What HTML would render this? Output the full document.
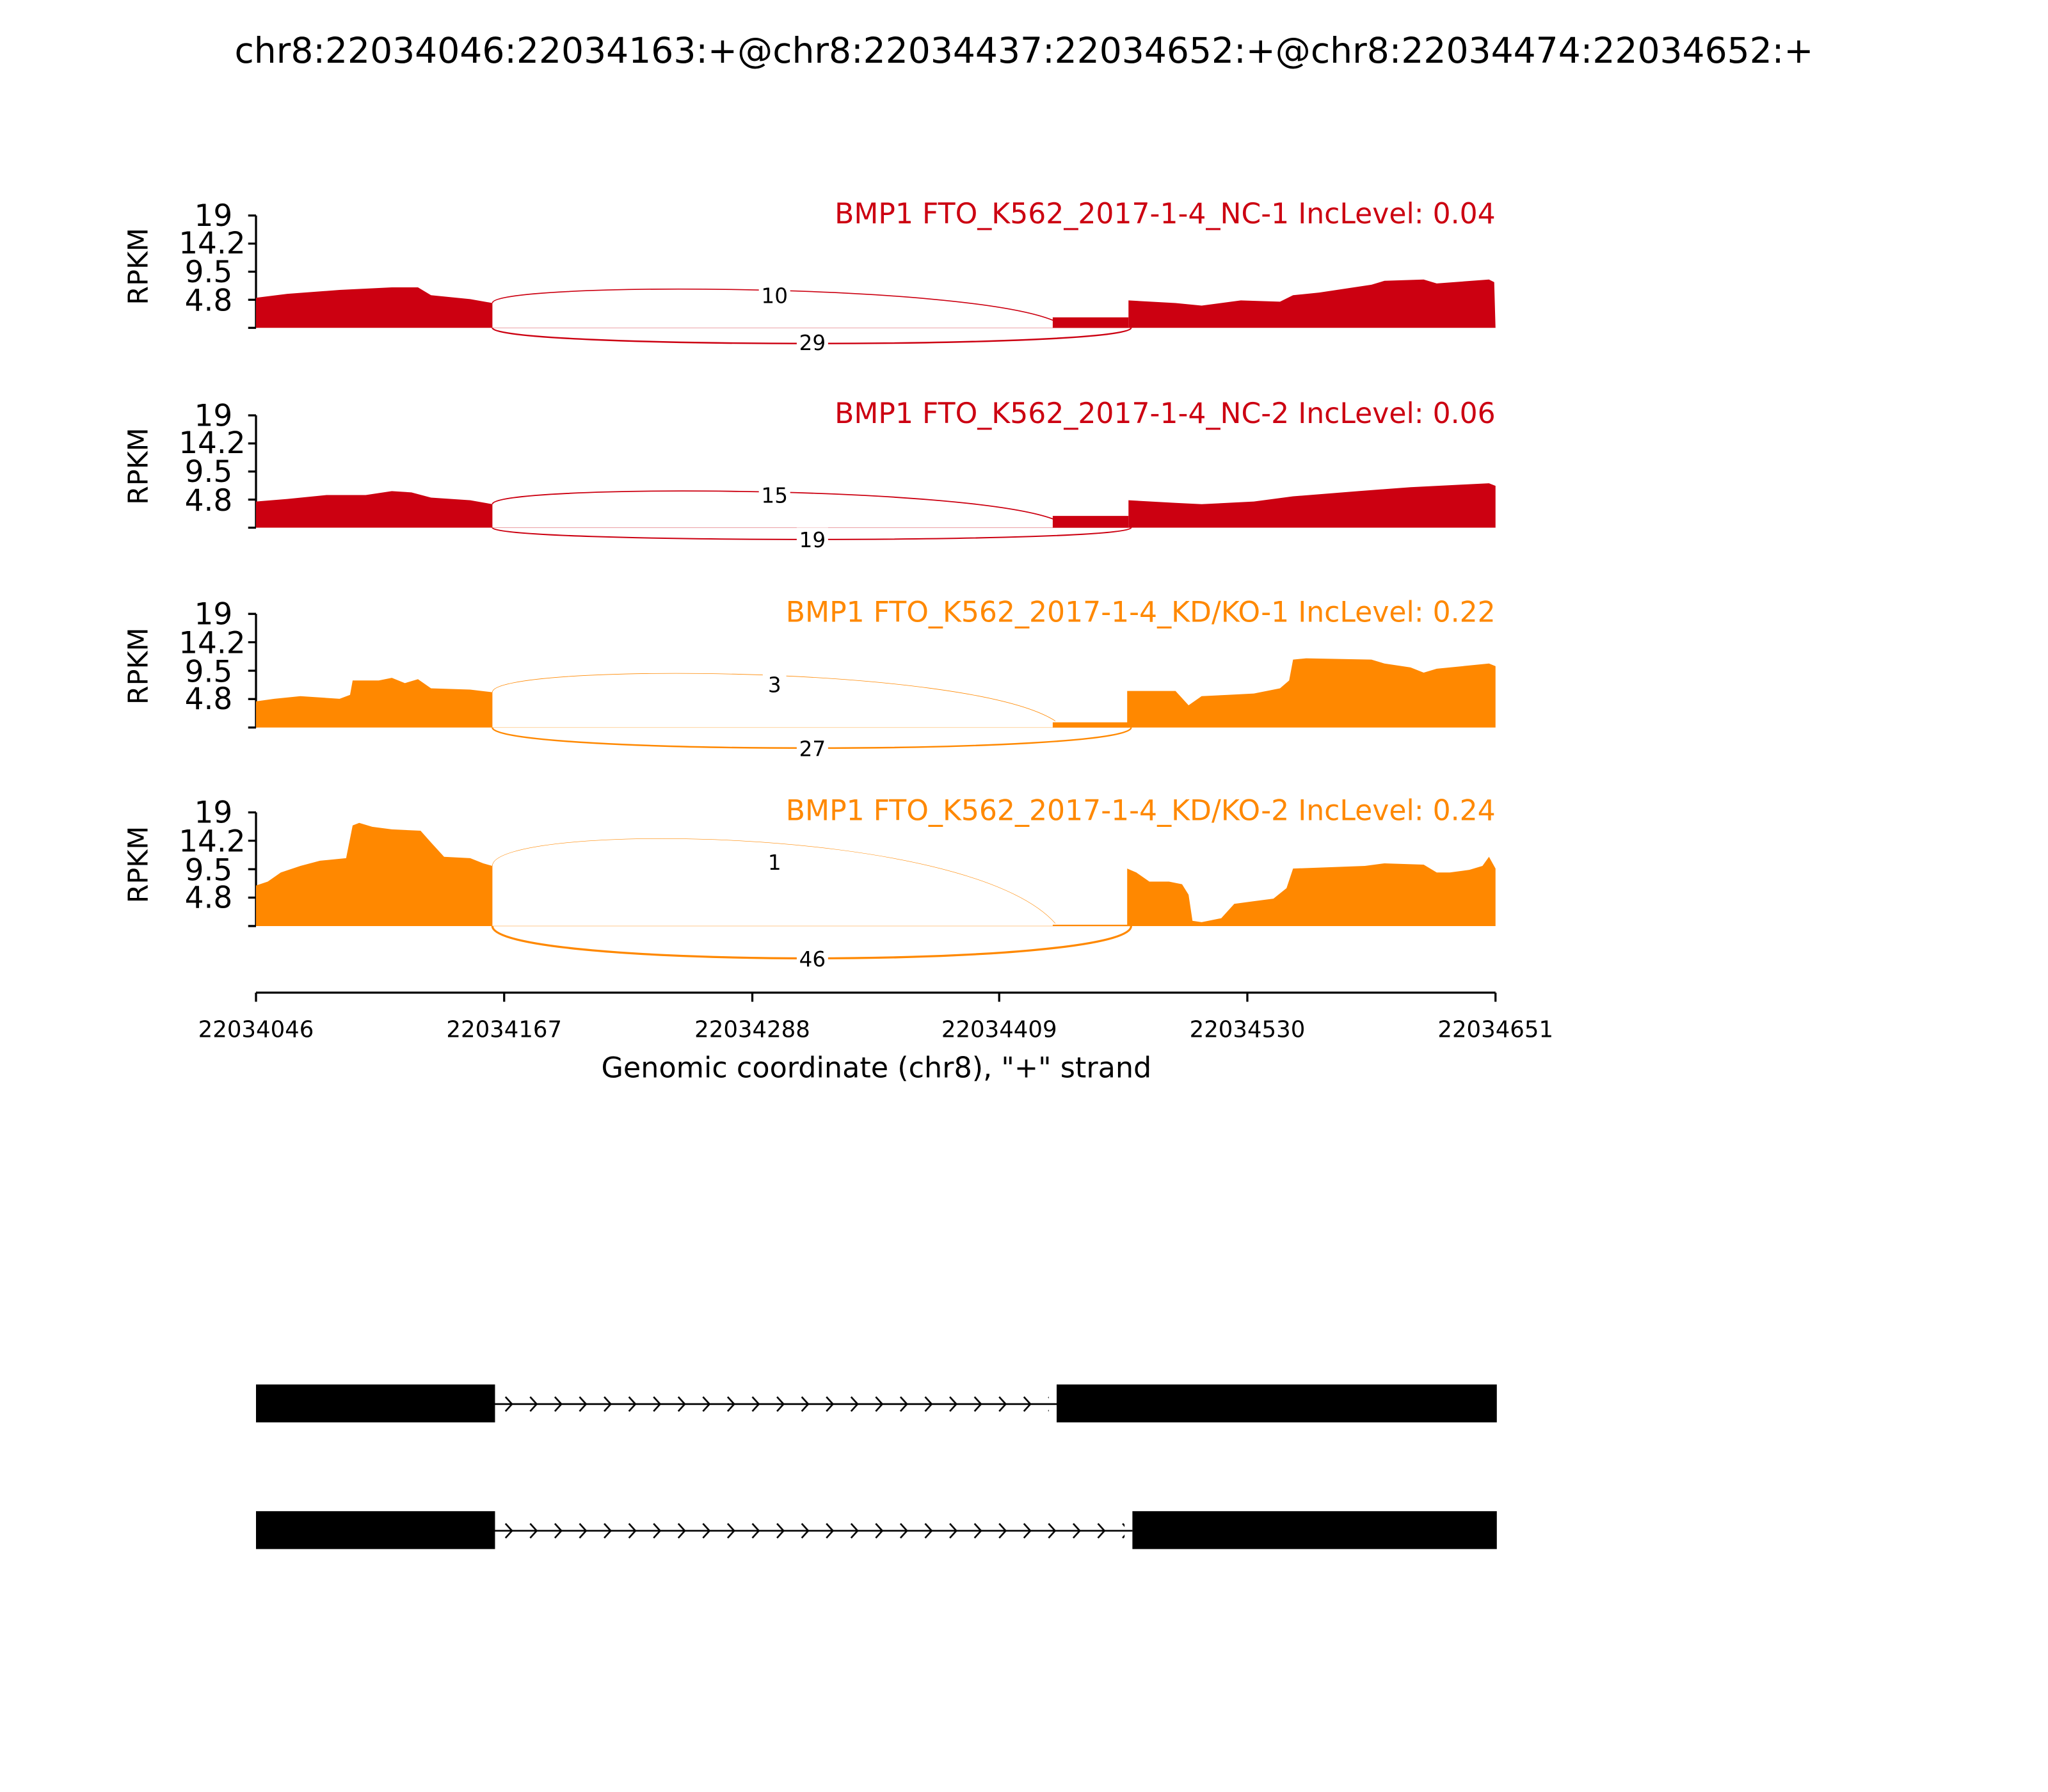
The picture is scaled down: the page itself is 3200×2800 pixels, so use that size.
<!DOCTYPE html>
<html><head><meta charset="utf-8"><style>html,body{margin:0;padding:0;background:#fff}svg{display:block}text{font-family:"DejaVu Sans","Liberation Sans",sans-serif}</style></head>
<body>
<svg xmlns="http://www.w3.org/2000/svg" width="3200" height="2800" viewBox="0 0 1568 1372">
<defs>
<pattern id="chev" x="383" y="1069" width="18.9" height="12" patternUnits="userSpaceOnUse">
<path d="M4,0.5 L9,6 L4,11.5" fill="none" stroke="#000" stroke-width="1.3"/>
</pattern>
<pattern id="chev2" x="383" y="1166" width="18.9" height="12" patternUnits="userSpaceOnUse">
<path d="M4,0.5 L9,6 L4,11.5" fill="none" stroke="#000" stroke-width="1.3"/>
</pattern>
</defs>
<rect width="1568" height="1372" fill="#fff"/>
<text x="784" y="48" font-size="27" text-anchor="middle">chr8:22034046:22034163:+@chr8:22034437:22034652:+@chr8:22034474:22034652:+</text>

<g stroke="#000" stroke-width="1.6" fill="none">
<path d="M196,165V251 M190,165H196 M190,186.5H196 M190,208H196 M190,229.5H196 M190,251H196"/>
<path d="M196,318V404 M190,318H196 M190,339.5H196 M190,361H196 M190,382.5H196 M190,404H196"/>
<path d="M196,470V557 M190,470H196 M190,491.7H196 M190,513.5H196 M190,535.2H196 M190,557H196"/>
<path d="M196,622V709 M190,622H196 M190,643.7H196 M190,665.5H196 M190,687.2H196 M190,709H196"/>
</g>
<g font-size="23" text-anchor="end">
<text x="178" y="173">19</text><text x="188" y="194">14.2</text><text x="178" y="216">9.5</text><text x="178" y="238">4.8</text>
<text x="178" y="326">19</text><text x="188" y="347">14.2</text><text x="178" y="369">9.5</text><text x="178" y="391">4.8</text>
<text x="178" y="478">19</text><text x="188" y="500">14.2</text><text x="178" y="522">9.5</text><text x="178" y="543">4.8</text>
<text x="178" y="630">19</text><text x="188" y="652">14.2</text><text x="178" y="674">9.5</text><text x="178" y="695">4.8</text>
</g>
<g font-size="21" text-anchor="middle">
<text transform="translate(113,204) rotate(-90)">RPKM</text>
<text transform="translate(113,357) rotate(-90)">RPKM</text>
<text transform="translate(113,510) rotate(-90)">RPKM</text>
<text transform="translate(113,662) rotate(-90)">RPKM</text>
</g>
<g font-size="21.6" text-anchor="end">
<text x="1145" y="171" fill="#CC0011">BMP1 FTO_K562_2017-1-4_NC-1 IncLevel: 0.04</text>
<text x="1145" y="324" fill="#CC0011">BMP1 FTO_K562_2017-1-4_NC-2 IncLevel: 0.06</text>
<text x="1145" y="476" fill="#FF8800">BMP1 FTO_K562_2017-1-4_KD/KO-1 IncLevel: 0.22</text>
<text x="1145" y="628" fill="#FF8800">BMP1 FTO_K562_2017-1-4_KD/KO-2 IncLevel: 0.24</text>
</g>

<g fill="#CC0011">
<path d="M196,251 V228 L220,225 260,222 300,220 320,220 330,226 360,229 377,232 L377,251Z"/>
<path d="M806,251 V243 H864 V251Z"/>
<path d="M864,251 V230 L900,232 920,234 950,230 980,231 990,226 1010,224 1050,218 1060,215 1090,214 1100,217 1140,214 1144,216 1145,251Z"/>
</g>
<g fill="none" stroke="#CC0011">
<path d="M377,251 H866" stroke-width="0.4" stroke-opacity="0.5"/>
<path d="M377,232 C377,216 740,216 808,246" stroke-width="0.8"/>
<path d="M377,251 C377,267 866,267 866,251" stroke-width="1.2"/>
</g>
<g font-size="16" text-anchor="middle">
<rect x="581" y="217" width="24" height="18" fill="#fff"/><text x="593" y="232">10</text>
<rect x="610" y="253" width="24" height="18" fill="#fff"/><text x="622" y="268">29</text>
</g>

<g fill="#CC0011">
<path d="M196,404 V384 L220,382 250,379 280,379 300,376 315,377 330,381 360,383 377,386 L377,404Z"/>
<path d="M806,404 V395 H864 V404Z"/>
<path d="M864,404 V383 L900,385 920,386 960,384 990,380 1040,376 1080,373 1120,371 1140,370 1145,372 V404Z"/>
</g>
<g fill="none" stroke="#CC0011">
<path d="M377,404 H866" stroke-width="0.4" stroke-opacity="0.5"/>
<path d="M377,386 C377,371 740,371 808,398" stroke-width="0.9"/>
<path d="M377,404 C377,416 866,416 866,404" stroke-width="1"/>
</g>
<g font-size="16" text-anchor="middle">
<rect x="581" y="370" width="24" height="18" fill="#fff"/><text x="593" y="385">15</text>
<rect x="610" y="404" width="24" height="18" fill="#fff"/><text x="622" y="419">19</text>
</g>

<g fill="#FF8800">
<path d="M196,557 V537 L210,535 230,533 260,535 268,532 270,521 290,521 300,519 310,523 320,520 330,527 360,528 377,530 L377,557Z"/>
<path d="M806,557 V553 H864 V557Z"/>
<path d="M863,557 V529 L880,529 900,529 910,540 920,533 940,532 960,531 980,527 987,521 990,505 1000,504 1050,505 1060,508 1080,511 1090,515 1100,512 1120,510 1140,508 1145,510 V557Z"/>
</g>
<g fill="none" stroke="#FF8800">
<path d="M377,557 H866" stroke-width="0.4" stroke-opacity="0.5"/>
<path d="M377,530 C377,508 740,508 808,552" stroke-width="0.4"/>
<path d="M377,557 C377,578 866,578 866,557" stroke-width="1.2"/>
</g>
<g font-size="16" text-anchor="middle">
<rect x="584" y="515" width="18" height="18" fill="#fff"/><text x="593" y="530">3</text>
<rect x="610" y="564" width="24" height="18" fill="#fff"/><text x="622" y="579">27</text>
</g>

<g fill="#FF8800">
<path d="M196,709 V678 L205,675 215,668 230,663 245,659 265,657 270,632 275,630 285,633 300,635 322,636 330,645 340,656 360,657 370,661 377,663 L377,709Z"/>
<path d="M806,709 V708 H864 V709Z"/>
<path d="M863,709 V665 L870,668 880,675 895,675 905,677 910,685 913,705 920,706 935,703 945,692 960,690 975,688 985,680 990,665 1045,663 1060,661 1090,662 1100,668 1110,668 1125,666 1135,663 1140,656 1145,665 V709Z"/>
</g>
<g fill="none" stroke="#FF8800">
<path d="M377,709 H866" stroke-width="0.4" stroke-opacity="0.5"/>
<path d="M377,663 C377,630 740,630 808,707" stroke-width="0.3"/>
<path d="M377,709 C377,742 866,742 866,709" stroke-width="1.6"/>
</g>
<g font-size="16" text-anchor="middle">
<rect x="584" y="651" width="18" height="18" fill="#fff"/><text x="593" y="666">1</text>
<rect x="610" y="725" width="24" height="18" fill="#fff"/><text x="622" y="740">46</text>
</g>

<g stroke="#000" stroke-width="1.6" fill="none">
<path d="M196,760H1145 M196,760v7 M386,760v7 M576,760v7 M765,760v7 M955,760v7 M1145,760v7"/>
</g>
<g font-size="17.4" text-anchor="middle">
<text x="196" y="794">22034046</text><text x="386" y="794">22034167</text><text x="576" y="794">22034288</text>
<text x="765" y="794">22034409</text><text x="955" y="794">22034530</text><text x="1145" y="794">22034651</text>
</g>
<text x="671" y="825" font-size="21.8" text-anchor="middle">Genomic coordinate (chr8), "+" strand</text>

<rect x="196" y="1060" width="183" height="29" fill="#000"/>
<rect x="809" y="1060" width="337" height="29" fill="#000"/>
<path d="M379,1075H809" stroke="#000" stroke-width="1.3"/>
<rect x="379" y="1069" width="424" height="12" fill="url(#chev)"/>
<rect x="196" y="1157" width="183" height="29" fill="#000"/>
<rect x="867" y="1157" width="279" height="29" fill="#000"/>
<path d="M379,1172H867" stroke="#000" stroke-width="1.3"/>
<rect x="379" y="1166" width="482" height="12" fill="url(#chev2)"/>
</svg>
</body></html>
